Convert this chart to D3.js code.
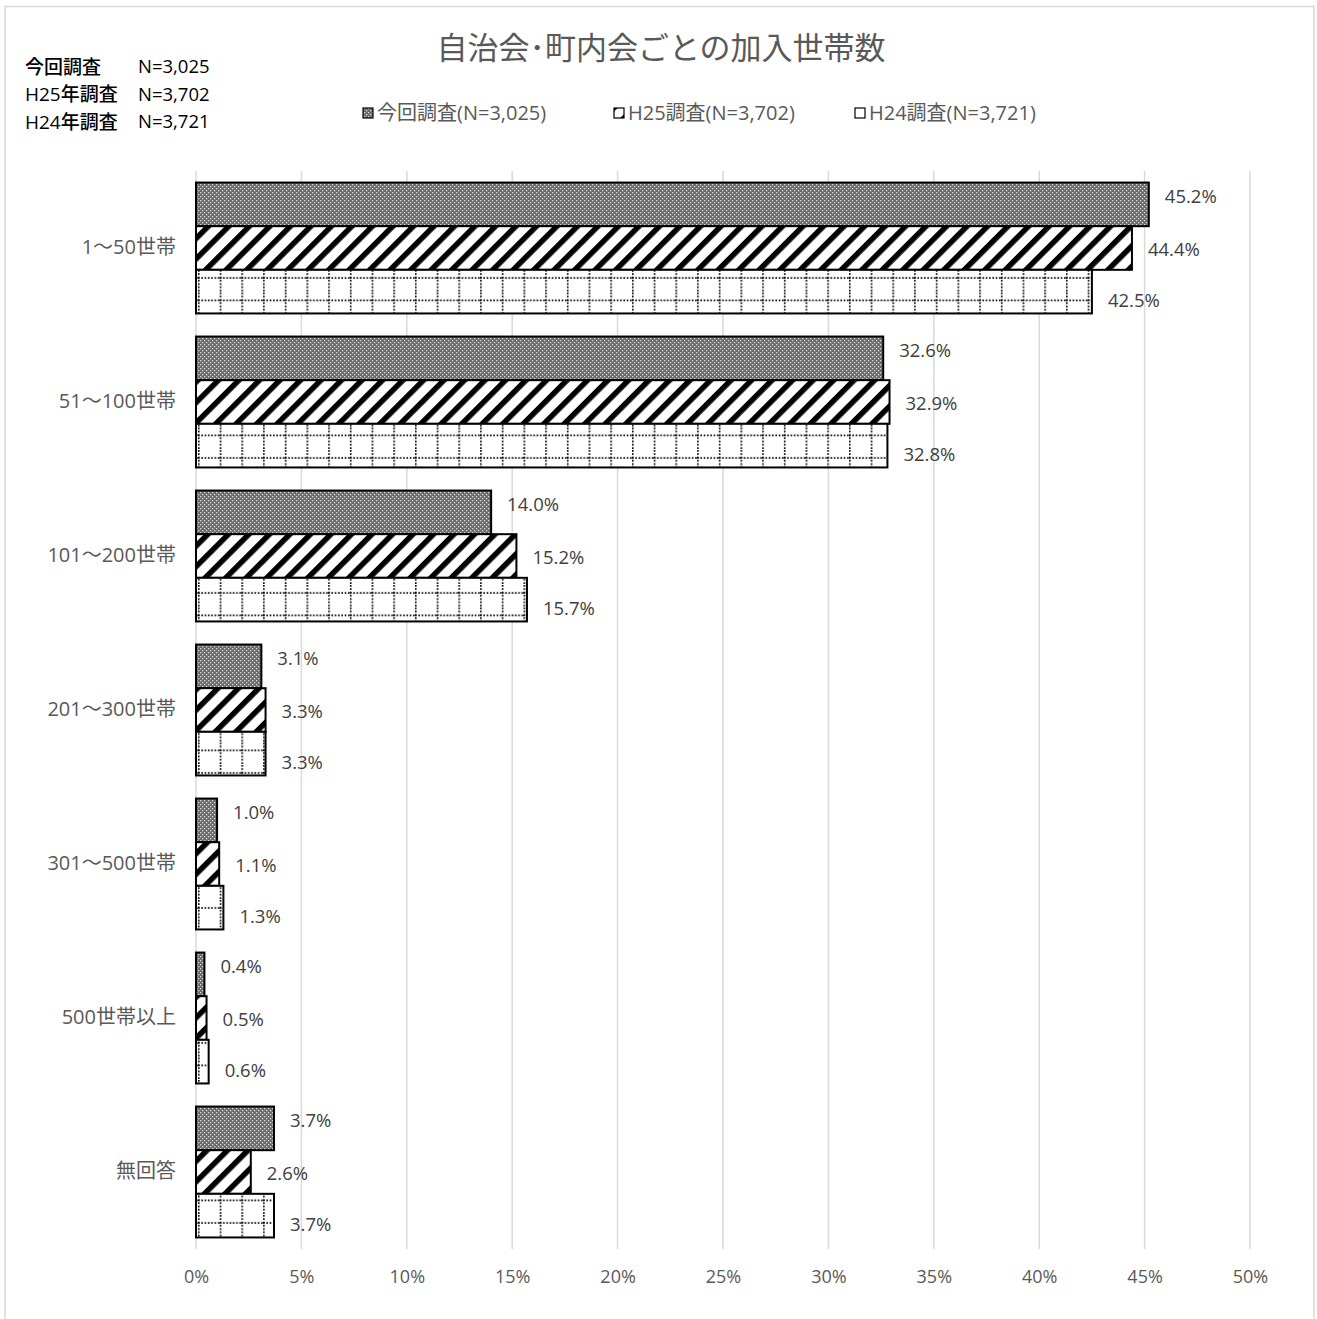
<!DOCTYPE html>
<html><head><meta charset="utf-8">
<script src="https://cdn.jsdelivr.net/npm/d3@7"></script>
<style>
html,body{margin:0;padding:0;background:#fff;}
text{font-family:"Open Sans","Noto Sans CJK JP",sans-serif;}
</style></head>
<body>
<svg id="chart" width="1317" height="1319"></svg>
<script>
const categories = ["1〜50世帯","51〜100世帯","101〜200世帯","201〜300世帯","301〜500世帯","500世帯以上","無回答"];
const seriesNames = ["今回調査(N=3,025)","H25調査(N=3,702)","H24調査(N=3,721)"];
const valuesCurrent = [45.2, 32.6, 14.0, 3.1, 1.0, 0.4, 3.7];
const valuesH25 = [44.4, 32.9, 15.2, 3.3, 1.1, 0.5, 2.6];
const valuesH24 = [42.5, 32.8, 15.7, 3.3, 1.3, 0.6, 3.7];
const xTicks = [0,5,10,15,20,25,30,35,40,45,50];
const noteLines = [["今回調査","N=3,025"],["H25年調査","N=3,702"],["H24年調査","N=3,721"]];
const title = "自治会･町内会ごとの加入世帯数";

const series = [valuesCurrent, valuesH25, valuesH24];
const svg = d3.select("#chart");
const defs = svg.append("defs");

// pattern 1: dark dotted
const p1 = defs.append("pattern").attr("id","pat0").attr("patternUnits","userSpaceOnUse").attr("width",4).attr("height",4);
p1.append("rect").attr("width",4).attr("height",4).attr("fill","#6a6a6a");
p1.append("rect").attr("x",0).attr("y",0).attr("width",1.3).attr("height",1.3).attr("fill","#d8d8d8");
p1.append("rect").attr("x",2).attr("y",2).attr("width",1.3).attr("height",1.3).attr("fill","#d8d8d8");
// pattern 2: wide diagonal stripes
const p2 = defs.append("pattern").attr("id","pat1").attr("patternUnits","userSpaceOnUse").attr("width",14.5).attr("height",14.5).attr("patternTransform","rotate(45)");
p2.append("rect").attr("width",14.5).attr("height",14.5).attr("fill","#fff");
p2.append("rect").attr("x",0).attr("y",0).attr("width",5.5).attr("height",14.5).attr("fill","#000");
// pattern 3: dotted grid
const p3 = defs.append("pattern").attr("id","pat2").attr("patternUnits","userSpaceOnUse").attr("width",21.7).attr("height",22.5).attr("x",198).attr("y",0);
p3.append("rect").attr("width",21.7).attr("height",22.5).attr("fill","#fff");
p3.append("line").attr("x1",0).attr("x2",21.7).attr("y1",8).attr("y2",8).attr("stroke","#000").attr("stroke-width",1.6).attr("stroke-dasharray","1.6,1.7");
p3.append("line").attr("x1",0.8).attr("x2",0.8).attr("y1",0).attr("y2",22.5).attr("stroke","#000").attr("stroke-width",1.6).attr("stroke-dasharray","1.6,1.7");

// outer frame
svg.append("rect").attr("x",5).attr("y",6.5).attr("width",1309).attr("height",1320).attr("fill","#fff").attr("stroke","#d9d9d9").attr("stroke-width",1.5);

const x = d3.scaleLinear().domain([0,50]).range([196,1250]);
const y = d3.scaleBand().domain(categories).range([171,1249]).paddingInner(0.15).paddingOuter(0.075);
const ys = d3.scaleBand().domain(d3.range(series.length)).range([0,y.bandwidth()]);

// gridlines
svg.append("g").selectAll("line").data(xTicks).join("line")
  .attr("x1",d=>x(d)).attr("x2",d=>x(d)).attr("y1",171).attr("y2",1249)
  .attr("stroke","#d9d9d9").attr("stroke-width",1.5);

// x axis labels
const xAxis = d3.axisBottom(x).tickValues(xTicks).tickFormat(d=>d+"%").tickSize(0).tickPadding(0);
const gx = svg.append("g").attr("transform","translate(0,1277)").call(xAxis);
gx.select(".domain").remove();
gx.selectAll("text").attr("font-size",18).attr("fill","#595959").attr("dy","0.35em");

// y axis labels
const yAxis = d3.axisLeft(y).tickSize(0).tickPadding(0);
const gy = svg.append("g").attr("transform","translate(176,0)").call(yAxis);
gy.select(".domain").remove();
gy.selectAll("text").attr("font-size",20).attr("fill","#595959").attr("dy","0.32em");

// bars
const labelDy = [-8, 2, 9];
series.forEach((vals, si) => {
  const g = svg.append("g");
  g.selectAll("rect").data(vals).join("rect")
    .attr("x", x(0))
    .attr("y", (d,i)=> y(categories[i]) + ys(si))
    .attr("width", d => x(d)-x(0))
    .attr("height", ys.bandwidth())
    .attr("fill", `url(#pat${si})`)
    .attr("stroke","#000").attr("stroke-width",2);
  const lg = svg.append("g");
  lg.selectAll("text").data(vals).join("text")
    .attr("x", d => x(d)+16)
    .attr("y", (d,i)=> y(categories[i]) + ys(si) + ys.bandwidth()/2 + labelDy[si])
    .attr("dy","0.35em")
    .attr("font-size",18.5).attr("fill","#404040")
    .text(d => d.toFixed(1)+"%");
});

// title
svg.append("text").attr("x",661).attr("y",48).attr("dy","0.35em").attr("text-anchor","middle")
  .attr("font-size",31).attr("fill","#595959").text(title);

// legend
const legendX = [363, 614, 855];
seriesNames.forEach((n,i)=>{
  svg.append("rect").attr("x",legendX[i]).attr("y",108).attr("width",10).attr("height",10)
    .attr("fill",`url(#pat${i})`).attr("stroke","#000").attr("stroke-width",1.2);
  svg.append("text").attr("x",legendX[i]+14).attr("y",113).attr("dy","0.35em")
    .attr("font-size",20).attr("fill","#595959").text(n);
});

// notes
noteLines.forEach((r,i)=>{
  svg.append("text").attr("x",25).attr("y",67+i*27.5).attr("dy","0.35em").attr("font-size",19).attr("font-weight",500).attr("fill","#000").text(r[0]);
  svg.append("text").attr("x",138).attr("y",67+i*27.5).attr("dy","0.35em").attr("font-size",18.5).attr("fill","#000").text(r[1]);
});
</script>
</body></html>
